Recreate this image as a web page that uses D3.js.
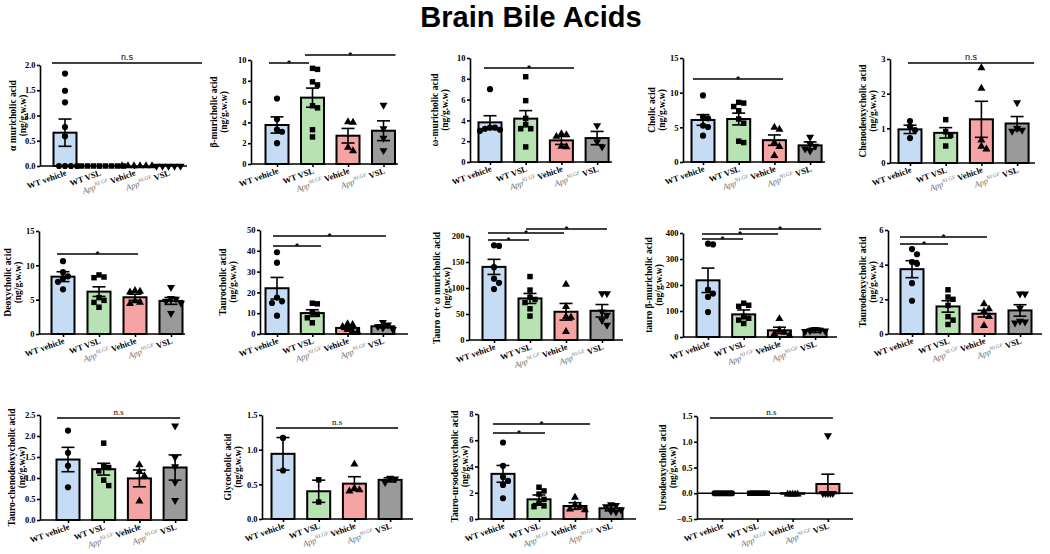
<!DOCTYPE html>
<html><head><meta charset="utf-8">
<script src="https://cdn.jsdelivr.net/npm/d3@7"></script>
<style>body{margin:0;background:#fff}svg{display:block}</style>
</head><body>
<svg id="chart" width="1050" height="554"></svg>
<script>
// ---------------- DATA ----------------
const chartTitle = "Brain Bile Acids";
const groups = ["WT vehicle", "WT VSL", "App Vehicle", "App VSL"];
const unitLabel = "(ng/g.w.w)";
const acidNames = [
  "α muricholic acid", "β-muricholic acid", "ω-muricholic acid", "Cholic acid", "Chenodeoxycholic acid",
  "Deoxycholic acid", "Taurocholic acid", "Tauro α+ ω muricholic acid", "tauro β-muricholic acid", "Taurodeoxycholic acid",
  "Tauro-chenodeoxycholic acid", "Glycocholic acid", "Tauro-ursodeoxycholic acid", "Ursodeoxycholic acid"
];
const yDomains = [[0,2],[0,10],[0,10],[0,15],[0,3],[0,15],[0,50],[0,200],[0,400],[0,6],[0,2.5],[0,1.5],[0,8],[-0.5,1.5]];
const yTickSteps = [0.5,2,2,5,1,5,10,50,100,2,0.5,0.5,2,0.5];
const tickDecimals = [1,0,0,0,0,0,0,0,0,0,1,1,0,1];
const meanValues = [
  [0.66,0,0,0],[3.75,6.38,2.72,3.2],[3.81,4.17,2.08,2.3],[6.06,6.2,3.15,2.4],[0.97,0.87,1.26,1.14],
  [8.35,6.17,5.35,4.82],[22.0,10.06,2.9,3.7],[140.6,79.9,54.3,56.2],[218,87,25.6,25.6],[3.74,1.59,1.17,1.36],
  [1.44,1.21,0.99,1.25],[0.94,0.40,0.51,0.565],[3.44,1.5,0.99,0.82],[0,0,-0.01,0.18]
];
const semValues = [
  [0.27,0,0,0],[0.78,0.92,0.7,0.95],[0.64,0.77,0.39,0.64],[0.77,0.85,0.75,0.5],[0.12,0.15,0.52,0.2],
  [0.72,0.7,0.45,0.5],[5.2,1.6,0.7,0.7],[14.5,9.6,16,12],[47,17,12,8],[0.49,0.33,0.19,0.33],
  [0.29,0.14,0.2,0.3],[0.235,0.16,0.1,0.03],[0.64,0.33,0.25,0.2],[0,0,0.005,0.19]
];
const pointValues = [
  [[1.83,1.49,1.26,0.77,0.59,0,0,0,0],[0,0,0,0,0,0,0,0],[0,0,0,0,0,0],[0,0,0,0,0]],
  [[6.3,4.3,3.3,3.1,2.0],[9.2,9.1,7.9,7.6,5.6,5.4,3.3,2.6],[4.05,4.0,1.6,1.25],[5.67,3.4,2.5,1.3]],
  [[7.0,3.3,3.2,3.1,3.0,3.3],[8.2,5.9,4.2,3.6,3.2,3.2,1.45],[2.7,2.6,2.45,1.5,1.45],[3.5,1.95,1.45]],
  [[9.6,6.5,6.3,5.25,5.05,3.8],[8.6,8.5,8.0,7.4,6.2,5.6,3.0,2.8],[5.0,4.7,2.8,2.2,0.9],[3.6,2.6,2.3,1.9,1.6]],
  [[1.21,1.05,0.95,0.72],[1.25,0.9,0.8,0.49],[2.74,2.15,0.66,0.48,0.4],[1.74,1.0,0.95,0.92]],
  [[10.6,9.0,8.4,8.1,7.6,6.5],[8.6,8.3,8.2,5.3,4.9,4.6,3.9],[6.3,6.2,6.1,4.8,4.6,4.4],[6.8,5.2,5.1,4.8,4.5,3.0]],
  [[39.3,34.3,17.5,15.7,14.9,8.8],[14.8,14.5,10.2,9.5,7.8,5.4],[4.9,4.5,3.5,2.1,1.3,1.0],[5.6,4.4,3.6,2.9,2.2]],
  [[182,181,140,118,110,98],[122,96,82,78,72,60,46],[106.7,64,44.7,43.5,16],[89.5,89.5,54,48,38,28.8]],
  [[359,356,182,167,154,96],[130,122,118,80,72,65,52],[70,26,18,12,6],[30,27,25,24,22]],
  [[4.9,4.6,4.15,4.05,2.93,1.92],[2.55,2.13,2.0,1.65,1.0,0.8,0.55],[1.74,1.44,1.3,1.0,0.48],[2.32,2.32,1.5,0.75,0.7,0.65]],
  [[2.13,1.6,1.29,0.78],[1.83,1.28,1.25,1.17,0.95,0.82],[1.31,1.15,1.05,0.45],[2.24,1.49,1.27,0.9,0.47]],
  [[1.17,0.70],[0.565,0.245],[0.79,0.44,0.42,0.40],[0.59,0.58,0.53]],
  [[5.83,4.05,3.2,2.9,2.6,1.58],[2.42,2.14,1.9,1.5,1.2,1.0,0.94],[1.65,1.07,0.95,0.75,0.7],[1.1,1.05,0.95,0.7,0.6,0.55]],
  [[0,0,0,0,0,0,0,0],[0,0,0,0,0,0,0,0],[-0.02,-0.02,-0.02,-0.02,-0.02],[1.12,0,0,0,0,0]]
];
// significance comparisons: [groupFrom, groupTo, label]
const significance = [
  [[0,3,"n.s"]],[[0,1,"*"],[1,3,"*"]],[[0,2,"*"]],[[0,2,"*"]],[[0,3,"n.s"]],
  [[0,2,"*"]],[[0,3,"*"],[0,1,"*"]],[[0,2,"*"],[0,1,"*"],[1,3,"*"]],[[0,2,"*"],[0,1,"*"],[1,3,"*"]],[[0,2,"*"],[0,1,"*"]],
  [[0,3,"n.s"]],[[0,3,"n.s"]],[[0,2,"*"],[0,1,"*"]],[[0,3,"n.s"]]
];

// ---------------- LAYOUT / STYLE ----------------
const panelLayout = [
  {ax:40, xe:187, yt:65, yb:166, c0:25, step:34.5, lab:17, sp:6},
  {ax:251, xe:398, yt:60, yb:164, c0:26, step:35.5, lab:27, sp:5},
  {ax:470, xe:612, yt:58, yb:162, c0:20, step:35.7, lab:25, sp:5},
  {ax:683, xe:825, yt:58, yb:162, c0:20, step:35.7, lab:21, sp:5},
  {ax:890, xe:1035, yt:59, yb:163, c0:20, step:35.7, lab:17, sp:5},
  {ax:39, xe:185, yt:231, yb:334, c0:24, step:36, lab:21, sp:5},
  {ax:260, xe:408, yt:230, yb:334, c0:17, step:35.3, lab:27, sp:5},
  {ax:469, xe:623, yt:236, yb:340, c0:25, step:36, lab:22, sp:5},
  {ax:683, xe:837, yt:233, yb:337, c0:25, step:35.7, lab:24, sp:5},
  {ax:888, xe:1042, yt:230, yb:334, c0:24, step:36, lab:15, sp:5},
  {ax:40, xe:187, yt:415, yb:520, c0:28, step:35.7, lab:18, sp:5},
  {ax:262, xe:413, yt:415, yb:519, c0:21, step:35.7, lab:24, sp:5},
  {ax:478, xe:636, yt:414, yb:519, c0:25, step:36, lab:13, sp:5},
  {ax:697, xe:853, yt:416, yb:519, c0:25, step:35.3, lab:24, sp:2.5}
];
// bracket pixel level and end offsets relative to group centres
const bracketLayout = [
  [{y:63,dl:-13,dr:33.5}],
  [{y:63,dl:-8,dr:-3.5},{y:55,dl:-7.5,dr:12}],
  [{y:68,dl:-6,dr:12.6}],
  [{y:79,dl:-10,dr:8.6}],
  [{y:63,dl:-2,dr:17}],
  [{y:254,dl:-6,dr:3}],
  [{y:236,dl:-4,dr:3},{y:246,dl:-4,dr:8.7}],
  [{y:233,dl:-6,dr:-2},{y:240,dl:-6,dr:-1},{y:229,dl:-4,dr:5}],
  [{y:234,dl:-6,dr:-1.4},{y:239,dl:-6,dr:-0.7},{y:229,dl:-4.7,dr:6}],
  [{y:237,dl:-12,dr:3},{y:244,dl:-12,dr:0}],
  [{y:418,dl:-11,dr:5}],
  [{y:428,dl:-7,dr:8}],
  [{y:424,dl:-10,dr:15},{y:433,dl:-10,dr:6}],
  [{y:418,dl:-12,dr:5}]
];
const fills = ["#c6dcf5","#b7e2b1","#f5a3a3","#9a9a9a"];
const barFillIndex = [[0,1,2,3],[0,1,2,3],[0,1,2,3],[0,1,2,3],[0,1,2,3],[0,1,2,3],[0,1,2,3],
  [0,1,2,3],[0,1,2,3],[0,1,2,3],[0,1,2,3],[0,1,2,3],[0,1,2,3],[0,1,2,2]];
const SERIF = "'Liberation Serif','Times New Roman',serif";
const SANS = "'Liberation Sans',Arial,sans-serif";
const barW = 23, capW = 13, LW = 1.6;

const svg = d3.select("#chart");
svg.append("text").attr("x",531).attr("y",27).attr("text-anchor","middle")
  .attr("font-family",SANS).attr("font-weight","bold").attr("font-size",29).text(chartTitle);

const symbols = [d3.symbol().type(d3.symbolCircle).size(30), d3.symbol().type(d3.symbolSquare).size(30),
  d3.symbol().type(d3.symbolTriangle).size(28), d3.symbol().type(d3.symbolTriangle).size(28)];

function swarm(vals, y, spacing){
  const pts = vals.map(v => ({v, py:y(v)})).sort((a,b)=>a.py-b.py);
  const placed = [];
  pts.forEach(p => {
    let k = 0, off = 0;
    while (true) {
      off = k === 0 ? 0 : (k % 2 ? 1 : -1) * Math.ceil(k/2) * spacing;
      const o = off;
      if (!placed.some(q => Math.abs(q.off - o) < spacing - 0.01 && Math.abs(q.py - p.py) < 5.5)) break;
      k++;
    }
    p.off = off; placed.push(p);
  });
  return placed;
}

acidNames.forEach((name, p) => {
  const L = panelLayout[p];
  const g = svg.append("g");
  const dom = yDomains[p];
  const y = d3.scaleLinear().domain(dom).range([L.yb, L.yt]);
  const x = d3.scalePoint().domain(d3.range(4)).range([L.ax + L.c0, L.ax + L.c0 + 3*L.step]);
  const ticks = d3.range(dom[0], dom[1] + 1e-9, yTickSteps[p]);
  const y0 = y(Math.max(0, dom[0]));

  if (dom[0] < 0) g.append("line").attr("x1",L.ax).attr("x2",L.xe).attr("y1",y0).attr("y2",y0)
    .attr("stroke","#000").attr("stroke-width",LW);

  meanValues[p].forEach((m,i) => {
    g.append("rect").attr("x", x(i)-barW/2).attr("y", Math.min(y(m), y0))
      .attr("width", barW).attr("height", Math.abs(y(m)-y0))
      .attr("fill", fills[barFillIndex[p][i]]).attr("stroke","#000").attr("stroke-width",LW+0.4);
  });

  meanValues[p].forEach((m,i) => {
    const s = semValues[p][i];
    if (s <= 0.0001) return;
    const eg = g.append("g").attr("stroke","#000").attr("stroke-width",LW);
    eg.append("line").attr("x1",x(i)).attr("x2",x(i)).attr("y1",y(m-s)).attr("y2",y(m+s));
    [m-s, m+s].forEach(v => eg.append("line").attr("x1",x(i)-capW/2).attr("x2",x(i)+capW/2).attr("y1",y(v)).attr("y2",y(v)));
  });

  pointValues[p].forEach((vals,i) => {
    swarm(vals, y, L.sp).forEach(pt => {
      g.append("path").attr("d", symbols[i]())
        .attr("transform", `translate(${x(i)+pt.off},${pt.py})` + (i===3 ? " rotate(180)" : ""))
        .attr("fill","#000");
    });
  });

  const ya = g.append("g").attr("transform",`translate(${L.ax},0)`)
    .call(d3.axisLeft(y).tickValues(ticks).tickFormat(d3.format(`.${tickDecimals[p]}f`))
      .tickSize(3).tickSizeOuter(0).tickPadding(1.5));
  ya.attr("font-family",SERIF).attr("font-size",8.5).attr("font-weight","bold");
  ya.selectAll("path,line").attr("stroke","#000").attr("stroke-width",LW);

  g.append("line").attr("x1",L.ax).attr("x2",L.xe).attr("y1",L.yb).attr("y2",L.yb)
    .attr("stroke","#000").attr("stroke-width",LW);
  const xa = g.append("g").attr("transform",`translate(0,${L.yb})`)
    .call(d3.axisBottom(x).tickSize(3).tickFormat(""));
  xa.select(".domain").remove();
  xa.selectAll("line").attr("stroke","#000").attr("stroke-width",LW);

  groups.forEach((lbl,i) => {
    const t = g.append("text").attr("transform",`translate(${x(i)+2},${L.yb+9}) rotate(-20)`)
      .attr("text-anchor","end").attr("font-family",SERIF).attr("font-size",8.5).attr("font-weight","bold");
    if (lbl.startsWith("App")) {
      t.append("tspan").attr("font-style","italic").attr("font-weight","normal").attr("fill","#707070").text("App");
      t.append("tspan").attr("font-style","italic").attr("font-weight","normal").attr("fill","#707070")
        .attr("font-size",5.5).attr("dy",-3.5).text("NLGF");
      t.append("tspan").attr("dy",3.5).text(lbl.slice(3));
    } else t.text(lbl);
  });

  const ym = (L.yt + L.yb)/2;
  [[name, L.lab + 10.5],[unitLabel, L.lab]].forEach(([txt,off]) => {
    g.append("text").attr("transform",`translate(${L.ax-off},${ym}) rotate(-90)`)
      .attr("text-anchor","middle").attr("dominant-baseline","central")
      .attr("font-family",SERIF).attr("font-size",9.5).attr("font-weight","bold").text(txt);
  });

  significance[p].forEach(([a,b,lab],k) => {
    const B = bracketLayout[p][k];
    const x1 = x(a)+B.dl, x2 = x(b)+B.dr;
    g.append("line").attr("x1",x1).attr("x2",x2).attr("y1",B.y).attr("y2",B.y)
      .attr("stroke","#000").attr("stroke-width",LW);
    const ns = lab === "n.s";
    g.append("text").attr("x",(x1+x2)/2).attr("y", ns ? B.y-3 : B.y+3).attr("text-anchor","middle")
      .attr("font-family", ns && p >= 10 ? SERIF : SANS).attr("font-weight", ns ? "normal" : "bold")
      .attr("font-size", ns ? 9 : 9).text(lab);
  });
});
</script>
</body></html>
